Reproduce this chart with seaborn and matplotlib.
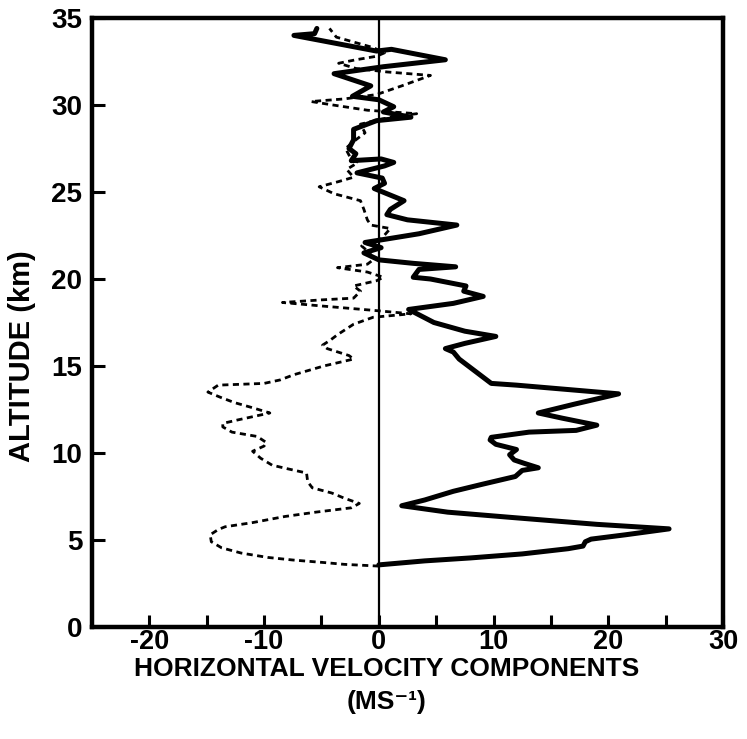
import numpy as np
import pandas as pd
import seaborn as sns
from matplotlib import pyplot as plt

# solid profile: altitude (km) and velocity (m/s), bottom to top
solid_alt = [3.57, 3.8, 3.97, 4.2, 4.5, 4.65, 4.9, 5.05, 5.3, 5.64, 5.9, 6.3, 6.6, 6.97, 7.3,
             7.8, 8.2, 8.65, 9.0, 9.15, 9.4, 9.6, 9.9, 10.2, 10.5, 10.75, 10.9, 11.2, 11.3,
             11.6, 12.0, 12.3, 12.8, 13.4, 13.9, 14.0, 14.5, 15.0, 15.4, 15.8, 16.0, 16.3,
             16.7, 17.0, 17.5, 18.25, 18.6, 19.0, 19.3, 19.6, 20.0, 20.1, 20.55, 20.7, 20.9,
             21.1, 21.5, 21.8, 22.1, 22.3, 22.6, 23.1, 23.4, 23.7, 24.0, 24.5, 25.2, 25.5,
             25.8, 26.1, 26.5, 26.7, 26.9, 26.8, 27.2, 27.5, 28.0, 28.6, 29.1, 29.3, 29.6,
             29.9, 30.3, 30.5, 31.1, 31.8, 32.2, 32.6, 33.2, 33.1, 34.0, 34.1, 34.4]
solid_vel = [0.0, 4.0, 8.0, 12.5, 16.5, 17.8, 18.0, 18.5, 21.5, 25.3, 19.0, 11.5, 6.0, 2.0, 4.0,
             6.5, 9.0, 11.9, 12.5, 13.9, 12.7, 11.8, 11.4, 12.0, 10.2, 9.7, 9.8, 13.1, 17.2,
             19.0, 16.0, 13.9, 17.0, 20.9, 12.0, 9.8, 8.8, 7.8, 7.0, 6.5, 5.8, 7.5,
             10.2, 7.5, 4.8, 2.6, 6.5, 9.1, 7.4, 7.6, 4.5, 3.0, 3.5, 6.7, 3.0,
             0.0, -1.3, 0.2, -1.2, 0.7, 3.5, 6.8, 2.5, 0.7, 1.0, 2.2, -0.4, 0.5,
             0.3, -1.9, 0.5, 1.3, 0.2, -2.4, -2.0, -2.6, -2.2, -2.2, -0.2, 2.8, 0.4,
             1.3, 0.0, -2.3, -0.7, -3.9, 0.4, 5.8, 1.1, -0.2, -7.4, -5.6, -5.4]

# dotted profile
dot_alt = [3.5, 3.6, 3.7, 3.85, 4.0, 4.25, 4.55, 4.9, 5.3, 5.6, 5.76, 6.0, 6.35, 6.6, 6.85,
           7.1, 7.4, 7.7, 8.0, 8.35, 8.85, 9.1, 9.3, 9.7, 10.1, 10.4, 10.6, 10.95, 11.2,
           11.5, 11.7, 11.9, 12.3, 12.6, 12.9, 13.2, 13.5, 13.9, 14.0, 14.2, 14.5, 15.0,
           15.4, 15.6, 16.0, 16.2, 16.5, 16.8, 17.4, 17.8, 18.0, 18.2, 18.45, 18.65, 18.8,
           18.9, 19.3, 19.6, 19.9, 20.1, 20.4, 20.65, 20.85, 21.1, 21.5, 21.9, 22.3, 22.9,
           23.1, 23.4, 24.0, 24.5, 24.9, 25.3, 25.6, 25.85, 26.3, 26.7, 27.0, 27.5, 28.0,
           28.4, 28.9, 29.3, 29.5, 29.7, 30.0, 30.2, 30.35, 30.6, 31.1, 31.7, 31.9, 32.1,
           32.4, 32.6, 32.8, 33.0, 33.3, 33.9, 34.4]
dot_vel = [0.0, -3.0, -4.7, -7.5, -9.7, -12.0, -13.7, -14.6, -14.7, -14.0, -13.4, -11.0, -8.2,
           -5.5, -2.4, -1.7, -3.0, -4.1, -5.8, -6.2, -6.3, -8.0, -9.3, -10.3, -11.0, -10.0,
           -9.8, -10.6, -12.8, -13.6, -13.6, -12.3, -9.5, -11.0, -12.6, -13.8, -14.9, -14.0,
           -10.0, -8.6, -7.4, -4.8, -2.2, -2.6, -4.5, -4.9, -4.2, -3.6, -2.2, -0.5, 2.8,
           -0.5, -5.0, -8.4, -5.0, -2.2, -1.6, -2.2, -0.2, 0.4, -1.0, -3.6, -1.0, -0.5,
           -0.8, -1.5, 0.2, 1.0, -0.7, -1.0, -1.3, -1.6, -3.9, -5.2, -3.5, -2.2, -2.8,
           -1.8, -2.5, -2.9, -2.0, -1.2, -1.6, 1.0, 3.3, -1.0, -4.0, -5.9, -3.0, -0.2,
           2.0, 4.5, 0.7, -2.0, -3.5, -2.0, -0.2, 0.5, -0.5, -3.7, -4.3]

x_major = [-20, -10, 0, 10, 20, 30]
x_minor = [-15, -5, 5, 15, 25]
y_ticks = [0, 5, 10, 15, 20, 25, 30, 35]

sns.set_style("ticks")
plt.rcParams['font.family'] = ['Liberation Sans', 'DejaVu Sans']
plt.rcParams['font.weight'] = 'bold'
plt.rcParams['axes.unicode_minus'] = False
plt.rcParams['text.color'] = 'black'
plt.rcParams['axes.labelcolor'] = 'black'

solid = pd.DataFrame({'alt': solid_alt, 'vel': solid_vel})
dotted = pd.DataFrame({'alt': dot_alt, 'vel': dot_vel})

fig = plt.figure(figsize=(7.47, 7.39), dpi=100)
ax = fig.add_axes([92/747, 1-627/739, 631/747, 609/739])

ax.axvline(0, color='black', lw=1.6, zorder=1)
sns.lineplot(data=dotted, x='vel', y='alt', sort=False, estimator=None, ax=ax,
             color='black', lw=2.0, linestyle=(0, (2.2, 1.6)))
sns.lineplot(data=solid, x='vel', y='alt', sort=False, estimator=None, ax=ax,
             color='black', lw=3.6)

ax.set_xlim(-25, 30)
ax.set_ylim(0, 35)
ax.set_xticks(x_major)
ax.set_xticks(x_minor, minor=True)
ax.set_yticks(y_ticks)
ax.tick_params(axis='both', which='both', direction='in', length=9, width=2.2,
               labelsize=20, colors='black')
ax.tick_params(axis='x', which='major', pad=1.5, labelsize=19.5)
ax.tick_params(axis='y', pad=7)
for lab in ax.get_xticklabels() + ax.get_yticklabels():
    lab.set_fontweight('bold')
for s in ax.spines.values():
    s.set_linewidth(3.2)
    s.set_color('black')

ax.set_xlabel("HORIZONTAL VELOCITY COMPONENTS\n(MS\u207b\u00b9)", fontsize=19,
              fontweight='bold', linespacing=1.5, color='black')
ax.xaxis.set_label_coords((387 - 92) / 631, -(657 - 627) / 609)
ax.set_ylabel("ALTITUDE (km)", fontsize=21, fontweight='bold', color='black')
ax.yaxis.set_label_coords((36 - 92) / 631, (627 - 356) / 609)

fig.savefig("out.png", dpi=100)
